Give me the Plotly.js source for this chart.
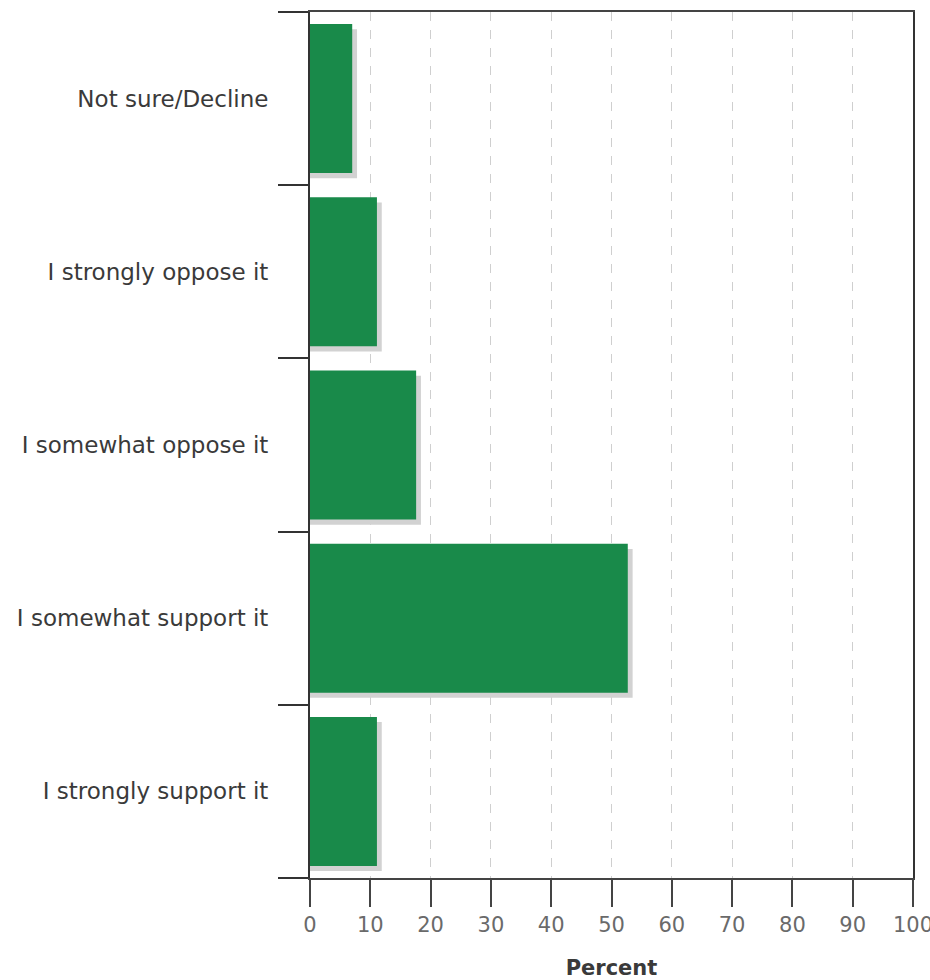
<!DOCTYPE html>
<html>
<head>
<meta charset="utf-8">
<script src="https://cdn.plot.ly/plotly-3.0.1.min.js"></script>
<style>html,body{margin:0;padding:0;background:#fff;}#chart{width:930px;height:980px;}</style>
</head>
<body>
<div id="chart"></div>
<script>
// Categories listed bottom to top
var categories = ["I strongly support it", "I somewhat support it", "I somewhat oppose it", "I strongly oppose it", "Not sure/Decline"];
var percents = [11.1, 52.7, 17.6, 11.1, 7.0];
var xTicks = [0, 10, 20, 30, 40, 50, 60, 70, 80, 90, 100];

var shadowShift = 0.8;
var shadow = {
  type: "bar", orientation: "h",
  y: categories,
  x: percents.map(function (v) { return v + shadowShift; }),
  width: 0.86, offset: -0.46,
  marker: { color: "#d2d2d2", line: { width: 0 } },
  hoverinfo: "skip", showlegend: false
};
var bars = {
  type: "bar", orientation: "h",
  y: categories,
  x: percents,
  width: 0.86, offset: -0.43,
  marker: { color: "#198a4a", line: { width: 0 } },
  showlegend: false
};

var layout = {
  width: 930, height: 980,
  margin: { l: 310, r: 17, t: 12, b: 102 },
  paper_bgcolor: "#fff", plot_bgcolor: "#fff",
  barmode: "overlay",
  font: { family: "DejaVu Sans, Verdana, sans-serif", color: "#333" },
  xaxis: {
    range: [0, 100],
    tickvals: xTicks,
    ticktext: xTicks.map(String),
    ticks: "outside", ticklen: 27, tickwidth: 2, tickcolor: "#444",
    tickfont: { size: 21, color: "#6a6a6a" },
    ticklabeloverflow: "allow",
    showgrid: true, gridcolor: "#cfcfcf", gridwidth: 1, griddash: "dash",
    zeroline: false,
    showline: true, linecolor: "#444", linewidth: 2, mirror: true,
    title: { text: "<b>Percent</b>", font: { size: 21, color: "#3a3a3a" }, standoff: 24 },
    automargin: false,
    fixedrange: true
  },
  yaxis: {
    type: "category",
    categoryorder: "array", categoryarray: categories,
    range: [-0.5, 4.5],
    ticks: "outside", tickson: "boundaries", ticklen: 30, tickwidth: 2, tickcolor: "#333",
    ticklabelstandoff: 35,
    tickfont: { size: 23, color: "#3a3a3a" },
    showgrid: false, zeroline: false,
    showline: true, linecolor: "#333", linewidth: 2, mirror: true,
    automargin: false,
    fixedrange: true
  }
};

Plotly.newPlot("chart", [shadow, bars], layout, { staticPlot: true });
</script>
</body>
</html>
